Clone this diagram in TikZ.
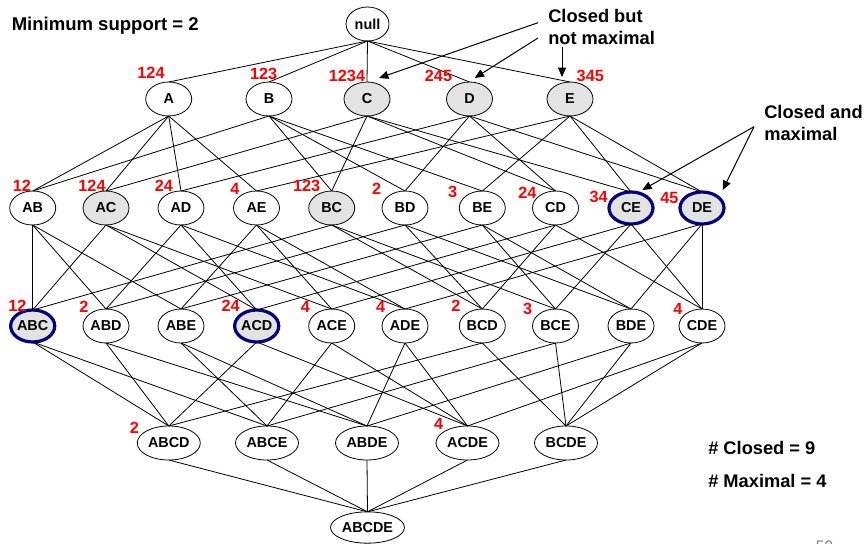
\documentclass[tikz,border=0pt]{standalone}
\usepackage{fontspec}
\setmainfont{Liberation Sans}
\usetikzlibrary{shapes.geometric,arrows.meta}
\tikzset{
  x=0.75pt,y=-0.75pt,
  nodebase/.style={ellipse,draw=black,line width=0.6pt,fill=white,inner sep=0pt,outer sep=0pt,font=\fontsize{10.8pt}{12pt}\selectfont\bfseries,text=black},
  item/.style={nodebase,minimum width=34.5pt,minimum height=25.5pt},
  wide/.style={nodebase,minimum width=47.25pt,minimum height=25.5pt},
  closedset/.style={fill=nodegray},
  maxset/.style={closedset,draw=navyring,line width=2.4pt,minimum width=33pt,minimum height=24pt},
  edge/.style={draw=black,line width=0.6pt},
  callout/.style={draw=black,line width=0.75pt,-{Triangle[length=7pt,width=6pt]}},
  sup/.style={font=\fontsize{12.2pt}{14pt}\selectfont\bfseries,text=supred,inner sep=0pt},
  note/.style={font=\fontsize{13.7pt}{16.5pt}\selectfont\bfseries,text=black,inner sep=0pt,align=left,anchor=west},
}
\definecolor{nodegray}{RGB}{227,227,227}
\definecolor{navyring}{RGB}{0,0,128}
\definecolor{supred}{RGB}{255,0,0}
\begin{document}
\begin{tikzpicture}
\useasboundingbox (0,0) rectangle (868,543);
\clip (0,0) rectangle (868,543);
% nodes
\node[nodebase,minimum width=32.25pt,minimum height=25.5pt] (null) at (367.5,24) {null};
\node[item] (A) at (168.7,99) {A};
\node[item] (B) at (269,99) {B};
\node[item,closedset] (C) at (367,99) {C};
\node[item,closedset] (D) at (469.5,99) {D};
\node[item,closedset] (E) at (570,99) {E};
\node[item] (AB) at (32.7,208) {AB};
\node[item,closedset] (AC) at (106,208) {AC};
\node[item] (AD) at (181,208) {AD};
\node[item] (AE) at (256.5,208) {AE};
\node[item,closedset] (BC) at (331.7,208) {BC};
\node[item] (BD) at (405,208) {BD};
\node[item] (BE) at (482.3,208) {BE};
\node[item] (CD) at (555.5,208) {CD};
\node[item,maxset] (CE) at (631,208) {CE};
\node[item,maxset] (DE) at (702,208) {DE};
\node[item,maxset] (ABC) at (32.7,326) {ABC};
\node[item] (ABD) at (106,326) {ABD};
\node[item] (ABE) at (181,326) {ABE};
\node[item,maxset] (ACD) at (256.7,326) {ACD};
\node[item] (ACE) at (331.7,326) {ACE};
\node[item] (ADE) at (405,326) {ADE};
\node[item] (BCD) at (482.3,326) {BCD};
\node[item] (BCE) at (555.5,326) {BCE};
\node[item] (BDE) at (631,326) {BDE};
\node[item] (CDE) at (702,326) {CDE};
\node[wide] (ABCD) at (168.8,443) {ABCD};
\node[wide] (ABCE) at (267,443) {ABCE};
\node[wide] (ABDE) at (367,443) {ABDE};
\node[wide] (ACDE) at (467.5,443) {ACDE};
\node[wide] (BCDE) at (566,443) {BCDE};
\node[nodebase,minimum width=55.5pt,minimum height=23.5pt] (ABCDE) at (367.5,527.5) {ABCDE};
% connectors
\foreach \a/\b in {null/A,null/B,null/C,null/D,null/E,
  A/AB,A/AC,A/AD,A/AE,B/AB,B/BC,B/BD,B/BE,C/AC,C/BC,C/CD,C/CE,D/AD,D/BD,D/CD,D/DE,E/AE,E/BE,E/CE,E/DE,
  AB/ABC,AB/ABD,AB/ABE,AC/ABC,AC/ACD,AC/ACE,AD/ABD,AD/ACD,AD/ADE,AE/ABE,AE/ACE,AE/ADE,
  BC/ABC,BC/BCD,BC/BCE,BD/ABD,BD/BCD,BD/BDE,BE/ABE,BE/BCE,BE/BDE,CD/ACD,CD/BCD,CD/CDE,
  CE/ACE,CE/BCE,CE/CDE,DE/ADE,DE/BDE,DE/CDE,
  ABC/ABCD,ABC/ABCE,ABD/ABCD,ABD/ABDE,ABE/ABCE,ABE/ABDE,ACD/ABCD,ACD/ACDE,ACE/ABCE,ACE/ACDE,
  ADE/ABDE,ADE/ACDE,BCD/ABCD,BCD/BCDE,BCE/ABCE,BCE/BCDE,BDE/ABDE,BDE/BCDE,CDE/ACDE,CDE/BCDE,
  ABCD/ABCDE,ABCE/ABCDE,ABDE/ABCDE,ACDE/ABCDE,BCDE/ABCDE}
  \draw[edge] (\a.south) -- (\b.north);
% support labels
\foreach \nm/\x/\y/\t in {l1/151/73/124,l2/263.7/73.5/123,l3/347/75.7/1234,l4/438.5/76/245,l5/590.3/76.3/345,
  l6/22/185.7/12,l7/92/185.7/124,l8/164/185.7/24,l9/235/189/4,l10/306.7/185.7/123,l11/376.7/189/2,
  l12/452.7/192/3,l13/527.3/193/24,l14/598.7/196.7/34,l15/669.3/198/45,
  l16/17.3/305.7/12,l17/84/307.3/2,l18/230.7/305.7/24,l19/305.3/307.3/4,l20/380.7/307.3/4,
  l21/456/305.7/2,l22/527.7/309/3,l23/678/309/4,l24/134.3/428.3/2,l25/438.7/424.3/4}
  \node[sup] (\nm) at (\x,\y) {\t};
% notes
\node[note,font=\fontsize{13.9pt}{16.5pt}\selectfont\bfseries] (minsup) at (11.5,25.5) {Minimum support = 2};
\node[note] (cbnm) at (548,26.7) {Closed but\\not maximal};
\node[note] (cam) at (764,123) {Closed and\\maximal};
\node[note] (nclosed) at (708,447.7) {\# Closed = 9};
\node[note] (nmax) at (708,480.7) {\# Maximal = 4};
\node[font=\fontsize{11.5pt}{12pt}\selectfont,text=black!50,inner sep=0pt] (pg) at (824.5,546) {59};
% callouts
\coordinate (s1) at (538,22.7);
\coordinate (s2) at (538,38);
\coordinate (s3) at (562,46.7);
\coordinate (s4) at (754,126.7);
\coordinate (e1) at (379,78);
\coordinate (e2) at (474.7,78);
\coordinate (e3) at (562,77);
\coordinate (e4) at (642.3,190);
\coordinate (e5) at (722.7,190);
\draw[callout] (s1) -- (e1);
\draw[callout] (s2) -- (e2);
\draw[callout] (s3) -- (e3);
\draw[callout] (s4) -- (e4);
\draw[callout] (s4) -- (e5);
\end{tikzpicture}
\end{document}
